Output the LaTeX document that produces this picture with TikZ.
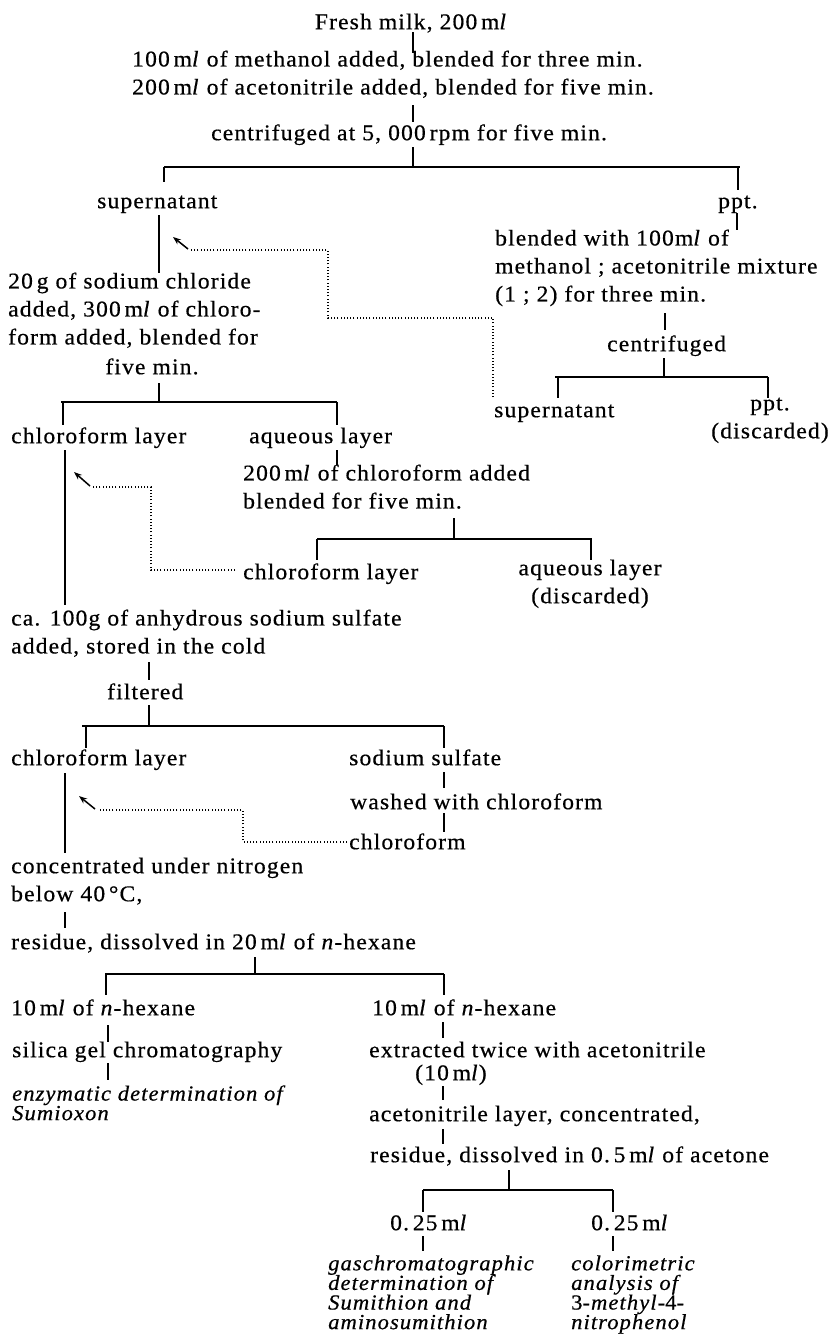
\documentclass[tikz,border=0pt]{standalone}
\usepackage{fontspec}
\setmainfont{Liberation Serif}[FakeStretch=1.05,LetterSpace=5,FakeBold=0.5]
\usetikzlibrary{arrows.meta}
\newcommand{\myml}{\,m\textit{l}}
\lineskiplimit=-30pt
\begin{document}
\lineskiplimit=-30pt\relax
\begin{tikzpicture}[x=1pt,y=-1pt,
  every node/.style={inner sep=0pt, font=\fontsize{22.5}{28}\selectfont},
  tx/.style={anchor=north west, align=left, yshift=12.6pt, execute at begin node=\strut},
  txc/.style={anchor=north, align=center, yshift=12.6pt, execute at begin node=\strut},
  itx/.style={anchor=north west, align=left, font=\fontsize{21.5}{19.6}\selectfont\itshape, yshift=6.8pt, execute at begin node=\strut},
  conn/.style={line width=1.4pt},
  bar/.style={line width=1.9pt},
  mainln/.style={line width=2.7pt},
  midln/.style={line width=1.8pt},
  dots/.style={line width=1.2pt, dash pattern=on 1.1pt off 2.1pt},
  back/.style={line width=1.5pt, -{Stealth[length=8pt,width=6pt]}}
]
\fill[white] (0,0) rectangle (829,1334);
\useasboundingbox (0,0) rectangle (829,1334);

% ---------- texts ----------
\node[txc] (fresh) at (411,22) {Fresh milk, 200\myml};
\node[tx] (add1) at (132,63) {100\myml{} of methanol added, blended for three min.\\200\myml{} of acetonitrile added, blended for five min.};
\node[tx] (cent1) at (211,133) {centrifuged at 5, 000\,rpm for five min.};
\node[tx] (sup1) at (97,201) {supernatant};
\node[tx] (ppt1) at (718,201) {ppt.};
\node[tx] (blend2) at (495,242) {blended with 100m\textit{l} of\\methanol ; acetonitrile mixture\\(1 ; 2) for three min.};
\node[tx] (cent2) at (607,344) {centrifuged};
\node[tx] (sup2) at (494,410) {supernatant};
\node[txc] (ppt2) at (770,410) {ppt.\\(discarded)};
\node[tx] (nacl) at (8,285) {20\,g of sodium chloride\\added, 300\myml{} of chloro-\\form added, blended for};
\node[txc] (nacl2) at (152,367) {five min.};
\node[tx] (chl1) at (11,436) {chloroform layer};
\node[tx] (aq1) at (249,436) {aqueous layer};
\node[tx] (chladd) at (243,477) {200\myml{} of chloroform added\\blended for five min.};
\node[tx] (chl3) at (243,572) {chloroform layer};
\node[txc] (aq2) at (590,572) {aqueous layer\\(discarded)};
\node[tx] (sulf) at (11,622) {ca. 100g of anhydrous sodium sulfate\\added, stored in the cold};
\node[tx] (filt) at (107,692) {filtered};
\node[tx] (chl4) at (11,758) {chloroform layer};
\node[tx] (nas) at (349,758) {sodium sulfate};
\node[tx] (wash) at (350,802) {washed with chloroform};
\node[tx] (chl5) at (349,842) {chloroform};
\node[tx] (conc) at (11,870) {concentrated under nitrogen\\below 40\,°C,};
\node[tx] (resid) at (11,942) {residue, dissolved in 20\myml{} of \textit{n}-hexane};
\node[tx] (hexL) at (11,1008) {10\myml{} of \textit{n}-hexane};
\node[tx] (hexR) at (372,1008) {10\myml{} of \textit{n}-hexane};
\node[tx] (silica) at (12,1050) {silica gel chromatography};
\node[itx] (enz) at (12,1092) {enzymatic determination of\\Sumioxon};
\node[tx] (extr) at (369,1050) {extracted twice with acetonitrile};
\node[tx] (extr2) at (415,1073) {(10\myml)};
\node[tx] (acl) at (369,1114) {acetonitrile layer, concentrated,};
\node[tx] (res2) at (370,1155) {residue, dissolved in 0.\,5\myml{} of acetone};
\node[tx] (q1) at (390,1223) {0.\,25\myml};
\node[tx] (q2) at (591,1223) {0.\,25\myml};
\node[itx] (gc) at (328,1262) {gaschromatographic\\determination of\\Sumithion and\\aminosumithion};
\node[itx] (col) at (571,1262) {colorimetric\\analysis of\\{\upshape 3}-methyl-{\upshape 4}-\\nitrophenol};

% ---------- junction coordinates ----------
\path (413,32) coordinate (v1a) (413,53) coordinate (v1b)
      (413,105) coordinate (v2a) (413,122) coordinate (v2b)
      (413,147) coordinate (v3a) (413,167) coordinate (v3b)
      (164,167) coordinate (b1l) (740,167) coordinate (b1r)
      (164,182) coordinate (t1a) (738,167) coordinate (b1t) (738,190) coordinate (t1b)
      (737,213) coordinate (v4a) (737,230) coordinate (v4b)
      (159,215) coordinate (m1a) (159,273) coordinate (m1b)
      (665,313) coordinate (v5a) (665,330) coordinate (v5b)
      (664,358) coordinate (v6a) (664,377) coordinate (v6b)
      (555,377) coordinate (b2l) (768,377) coordinate (b2r)
      (558,377) coordinate (b2t) (558,398) coordinate (t2a) (768,398) coordinate (t2b)
      (159,383) coordinate (v7a) (159,402) coordinate (v7b)
      (61,402) coordinate (b3l) (337,402) coordinate (b3r)
      (63,402) coordinate (b3t) (63,425) coordinate (t3a) (337,425) coordinate (t3b)
      (337,450) coordinate (v8a) (337,465) coordinate (v8b)
      (65,450) coordinate (m2a) (65,605) coordinate (m2b)
      (454,518) coordinate (v9a) (454,539) coordinate (v9b)
      (317,539) coordinate (b4l) (592,539) coordinate (b4r)
      (317,560) coordinate (t4a) (591,539) coordinate (b4t) (591,560) coordinate (t4b)
      (149,662) coordinate (v10a) (149,680) coordinate (v10b)
      (149,705) coordinate (v11a) (149,726) coordinate (v11b)
      (82,726) coordinate (b5l) (444,726) coordinate (b5r)
      (86,726) coordinate (b5t) (86,748) coordinate (t5a) (444,748) coordinate (t5b)
      (444,772) coordinate (v12a) (444,788) coordinate (v12b)
      (444,813) coordinate (v13a) (444,832) coordinate (v13b)
      (65,773) coordinate (m3a) (65,853) coordinate (m3b)
      (65,912) coordinate (v14a) (65,928) coordinate (v14b)
      (255,957) coordinate (v15a) (255,974) coordinate (v15b)
      (105,974) coordinate (b6l) (444,974) coordinate (b6r)
      (106,974) coordinate (b6t) (106,995) coordinate (t6a) (444,995) coordinate (t6b)
      (108,1025) coordinate (v16a) (108,1042) coordinate (v16b)
      (108,1063) coordinate (v17a) (108,1080) coordinate (v17b)
      (443,1022) coordinate (v18a) (443,1038) coordinate (v18b)
      (443,1086) coordinate (v19a) (443,1100) coordinate (v19b)
      (443,1129) coordinate (v20a) (443,1144) coordinate (v20b)
      (509,1170) coordinate (v21a) (509,1190) coordinate (v21b)
      (423,1190) coordinate (b7l) (613,1190) coordinate (b7r)
      (423,1212) coordinate (t7a) (613,1212) coordinate (t7b)
      (423,1236) coordinate (v22a) (423,1251) coordinate (v22b)
      (613,1236) coordinate (v23a) (613,1251) coordinate (v23b);
% dotted return paths
\path (493,397) coordinate (d1a) (493,318) coordinate (d1b) (328,318) coordinate (d1c)
      (328,250) coordinate (d1d) (191,250) coordinate (d1e)
      (188,249) coordinate (r1a) (173,237) coordinate (r1b)
      (235,570) coordinate (d2a) (151,570) coordinate (d2b) (151,487) coordinate (d2c)
      (93,487) coordinate (d2d) (90,486) coordinate (r2a) (74,472) coordinate (r2b)
      (347,842) coordinate (d3a) (243,842) coordinate (d3b) (243,810) coordinate (d3c)
      (98,810) coordinate (d3d) (95,809) coordinate (r3a) (79,796) coordinate (r3b);

% ---------- connectors ----------
\foreach \p in {v1,v2,v3,v4,v5,v6,v7,v8,v9,v10,v11,v12,v13,v14,v15,v16,v17,v18,v19,v20,v21,v22,v23}
  \draw[conn] (\p a) -- (\p b);
\draw[bar] (b1l) -- (b1r);
\draw[conn] (b1l) -- (t1a);
\draw[conn] (b1t) -- (t1b);
\draw[bar] (b2l) -- (b2r);
\draw[conn] (b2t) -- (t2a);
\draw[conn] (b2r) -- (t2b);
\draw[bar] (b3l) -- (b3r);
\draw[conn] (b3t) -- (t3a);
\draw[conn] (b3r) -- (t3b);
\draw[bar] (b4l) -- (b4r);
\draw[conn] (b4l) -- (t4a);
\draw[conn] (b4t) -- (t4b);
\draw[bar] (b5l) -- (b5r);
\draw[conn] (b5t) -- (t5a);
\draw[conn] (b5r) -- (t5b);
\draw[bar] (b6l) -- (b6r);
\draw[conn] (b6t) -- (t6a);
\draw[conn] (b6r) -- (t6b);
\draw[bar] (b7l) -- (b7r);
\draw[conn] (b7l) -- (t7a);
\draw[conn] (b7r) -- (t7b);
\draw[mainln] (m1a) -- (m1b);
\draw[mainln] (m2a) -- (m2b);
\draw[midln] (m3a) -- (m3b);

\draw[dots] (d1a) -- (d1b) -- (d1c) -- (d1d) -- (d1e);
\draw[back] (r1a) -- (r1b);
\draw[dots] (d2a) -- (d2b) -- (d2c) -- (d2d);
\draw[back] (r2a) -- (r2b);
\draw[dots] (d3a) -- (d3b) -- (d3c) -- (d3d);
\draw[back] (r3a) -- (r3b);
\end{tikzpicture}
\end{document}
